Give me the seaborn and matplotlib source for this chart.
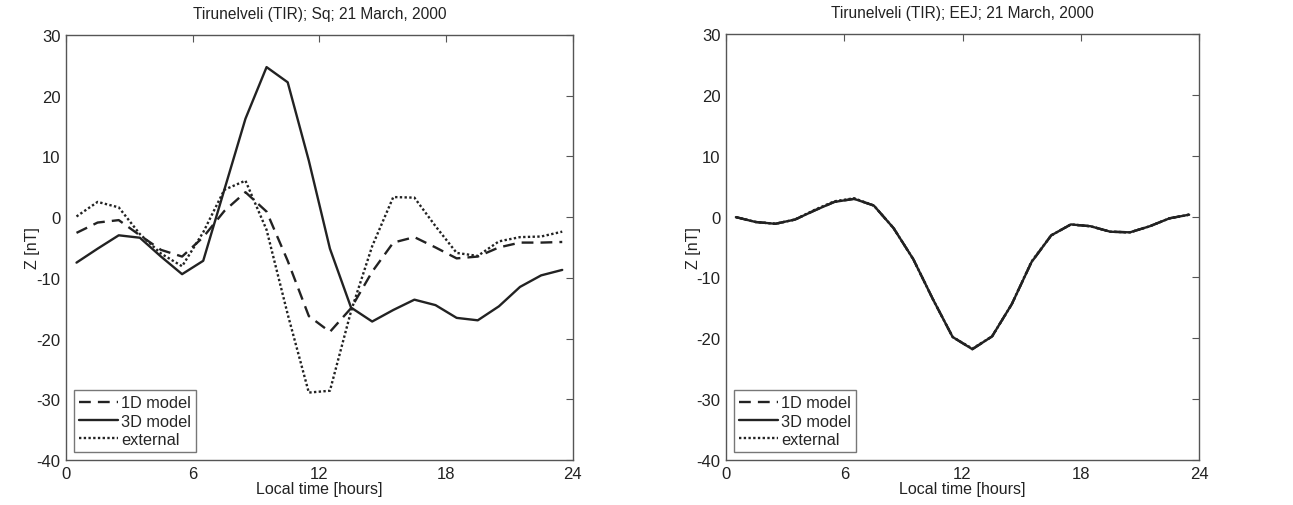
import numpy as np
import pandas as pd
import seaborn as sns
import matplotlib.pyplot as plt

# ---------------------------------------------------------
# data, hourly values at half hours
# ---------------------------------------------------------
hours = [h + 0.5 for h in range(24)]

sq_1d = [-2.6, -0.9, -0.5, -3.0, -5.4, -6.5, -3.3, 1.0, 4.1, 0.9, -7.2, -16.3,
         -18.9, -15.0, -9.0, -4.2, -3.3, -5.0, -6.8, -6.5, -5.0, -4.2, -4.2, -4.1]
sq_3d = [-7.5, -5.2, -3.0, -3.4, -6.5, -9.4, -7.2, 4.5, 16.2, 24.7, 22.2, 9.3,
         -5.2, -14.9, -17.2, -15.3, -13.6, -14.5, -16.6, -17.0, -14.7, -11.5, -9.6, -8.7]
sq_ext = [0.1, 2.5, 1.6, -2.8, -6.0, -8.1, -2.5, 4.5, 6.0, -2.1, -16.0, -28.9,
          -28.6, -15.5, -4.8, 3.3, 3.2, -1.5, -5.9, -6.4, -4.0, -3.3, -3.2, -2.4]

eej_1d = [-0.1, -0.9, -1.2, -0.5, 1.0, 2.4, 2.9, 1.8, -1.9, -7.0, -13.6, -19.8,
          -21.8, -19.7, -14.4, -7.5, -3.1, -1.3, -1.6, -2.5, -2.6, -1.6, -0.3, 0.3]
eej_3d = [-0.1, -0.9, -1.2, -0.5, 1.0, 2.4, 2.9, 1.8, -1.9, -7.0, -13.6, -19.8,
          -21.8, -19.7, -14.4, -7.5, -3.1, -1.3, -1.6, -2.5, -2.6, -1.6, -0.3, 0.3]
eej_ext = [-0.1, -0.9, -1.2, -0.5, 1.1, 2.5, 3.0, 1.8, -1.9, -7.0, -13.6, -19.8,
           -21.7, -19.7, -14.4, -7.4, -3.1, -1.3, -1.6, -2.5, -2.6, -1.6, -0.3, 0.3]

models = ['1D model', '3D model', 'external']
titles = ['Tirunelveli (TIR); Sq; 21 March, 2000',
          'Tirunelveli (TIR); EEJ; 21 March, 2000']


def long_df(a, b, c):
    return pd.DataFrame({
        'hour': hours * 3,
        'Z': a + b + c,
        'model': [m for m in models for _ in hours],
    })


panels = [long_df(sq_1d, sq_3d, sq_ext), long_df(eej_1d, eej_3d, eej_ext)]

# ---------------------------------------------------------
# plot
# ---------------------------------------------------------
sns.set_theme(style="white")
plt.rcParams['font.family'] = ['Liberation Sans', 'DejaVu Sans']
plt.rcParams['axes.unicode_minus'] = False

fig = plt.figure(figsize=(12.93, 5.06), dpi=100)
ax1 = fig.add_axes([0.051, 0.089, 0.392, 0.840])
ax2 = fig.add_axes([0.5615, 0.089, 0.3658, 0.842])

dash_map = {'1D model': (5, 3), '3D model': '', 'external': (1, 1.0)}
line_col = '#222222'

for ax, df, title in zip([ax1, ax2], panels, titles):
    sns.lineplot(data=df, x='hour', y='Z', style='model', dashes=dash_map,
                 color=line_col, linewidth=1.7, ax=ax, legend=False,
                 style_order=models)
    ax.set_xlim(0, 24)
    ax.set_ylim(-40, 30)
    ax.set_xticks([0, 6, 12, 18, 24])
    ax.set_yticks(range(-40, 31, 10))
    ax.tick_params(direction='in', top=True, right=True, length=5,
                   width=0.8, colors='#555555', labelcolor='#222222',
                   labelsize=12, pad=4)
    for sp in ax.spines.values():
        sp.set_color('#555555')
        sp.set_linewidth(1.0)
    ax.set_title(title, fontsize=11.2, color='#222222', pad=12)
    ax.set_xlabel('Local time [hours]', fontsize=11.5, color='#222222', labelpad=0)
    ax.set_ylabel('Z [nT]', fontsize=11.5, color='#222222', labelpad=-3)

    handles = [plt.Line2D([], [], color=line_col, linewidth=1.7, dashes=(5, 3)),
               plt.Line2D([], [], color=line_col, linewidth=1.7, linestyle='-'),
               plt.Line2D([], [], color=line_col, linewidth=1.7, dashes=(1, 1.0))]
    leg = ax.legend(handles, models, loc='lower left', fontsize=11.8,
                    frameon=True, fancybox=False, handlelength=2.4,
                    handletextpad=0.15, labelspacing=0.2, borderpad=0.3,
                    borderaxespad=0.5)
    leg.get_frame().set_edgecolor('#555555')
    leg.get_frame().set_linewidth(1.0)

plt.savefig('out.png', dpi=100)
